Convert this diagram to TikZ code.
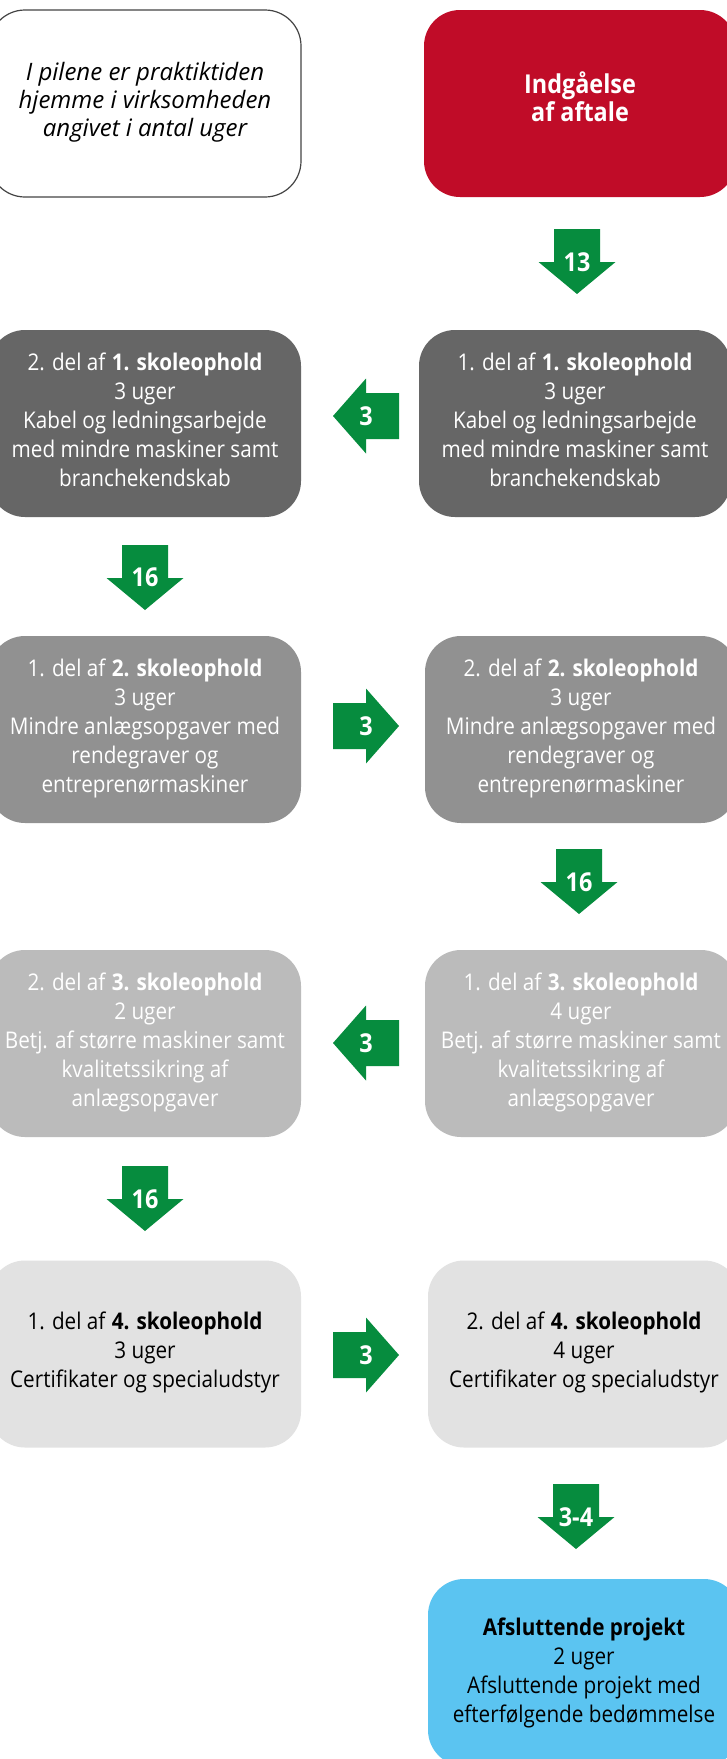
\documentclass[tikz,border=0pt]{standalone}
\usepackage{fontspec}
\setmainfont{Open Sans}[FakeStretch=0.9]
\newfontfamily\introfont{Open Sans}
\definecolor{cred}{HTML}{C00C28}
\definecolor{cdark}{HTML}{666666}
\definecolor{cmid}{HTML}{919191}
\definecolor{clight}{HTML}{BBBBBB}
\definecolor{cpale}{HTML}{E2E2E2}
\definecolor{cblue}{HTML}{5BC4F1}
\definecolor{cgreen}{HTML}{068C3E}
\definecolor{cborder}{HTML}{444444}
\newcommand{\liftup}{\\[-21pt]\mbox{}}
\tikzset{
  box/.style={rounded corners=36pt, minimum width=312pt, minimum height=187pt,
    align=center, inner sep=0pt, font=\fontsize{23}{29}\selectfont},
  alabel/.style={text=white, font=\bfseries\fontsize{26}{26}\selectfont, inner sep=0pt},
  downarrow/.pic={\fill[cgreen] (-23,0) -- (23,0) -- (23,33) -- (38.5,33) -- (0,65) -- (-38.5,33) -- (-23,33) -- cycle;},
  leftarrow/.pic={\fill[cgreen] (33,-23) -- (33,23) -- (0,23) -- (0,37.5) -- (-33,0) -- (0,-37.5) -- (0,-23) -- cycle;},
  rightarrow/.pic={\fill[cgreen] (-33,-23) -- (-33,23) -- (0,23) -- (0,37.5) -- (33,0) -- (0,-37.5) -- (0,-23) -- cycle;},
}
\begin{document}
\begin{tikzpicture}[x=1pt,y=-1pt]
\fill[white] (0,0) rectangle (726,1759);
\useasboundingbox (0,0) rectangle (726,1759);

% row 1
\node[box, draw=cborder, line width=1.2pt, fill=white, font=\introfont\itshape\fontsize{24}{28}\selectfont] (intro) at (145,103.5)
  {I pilene er praktiktiden\\hjemme i virksomheden\\angivet i antal uger\\[-20pt]\mbox{}};
\node[box, fill=cred, text=white, font=\bfseries\fontsize{26}{28}\selectfont] (start) at (580,103.5)
  {Indgåelse\\af aftale\\[-14pt]\mbox{}};

% row 2
\node[box, fill=cdark, text=white] (s1b) at (145,423.5)
  {2. del af \textbf{1. skoleophold}\\3 uger\\Kabel og ledningsarbejde\\med mindre maskiner samt\\branchekendskab\liftup};
\node[box, fill=cdark, text=white] (s1a) at (575,423.5)
  {1. del af \textbf{1. skoleophold}\\3 uger\\Kabel og ledningsarbejde\\med mindre maskiner samt\\branchekendskab\liftup};

% row 3
\node[box, fill=cmid, text=white] (s2a) at (145,729.5)
  {1. del af \textbf{2. skoleophold}\\3 uger\\Mindre anlægsopgaver med\\rendegraver og\\entreprenørmaskiner\liftup};
\node[box, fill=cmid, text=white] (s2b) at (581,729.5)
  {2. del af \textbf{2. skoleophold}\\3 uger\\Mindre anlægsopgaver med\\rendegraver og\\entreprenørmaskiner\liftup};

% row 4
\node[box, fill=clight, text=white] (s3b) at (145,1043.5)
  {2. del af \textbf{3. skoleophold}\\2 uger\\Betj. af større maskiner samt\\kvalitetssikring af\\anlægsopgaver\liftup};
\node[box, fill=clight, text=white] (s3a) at (581,1043.5)
  {1. del af \textbf{3. skoleophold}\\4 uger\\Betj. af større maskiner samt\\kvalitetssikring af\\anlægsopgaver\liftup};

% row 5
\node[box, fill=cpale, text=black] (s4a) at (145,1354)
  {1. del af \textbf{4. skoleophold}\\3 uger\\Certifikater og specialudstyr\liftup};
\node[box, fill=cpale, text=black] (s4b) at (584,1354)
  {2. del af \textbf{4. skoleophold}\\4 uger\\Certifikater og specialudstyr\liftup};

% final
\node[box, fill=cblue, text=black] (final) at (584,1672.5)
  {\textbf{Afsluttende projekt}\\2 uger\\Afsluttende projekt med\\efterfølgende bedømmelse};

% arrows
\pic at (577,229) {downarrow};
\node[alabel] (a1) at (577,262) {13};
\pic at (366,416) {leftarrow};
\node[alabel] (a2) at (366,416) {3};
\pic at (145,545) {downarrow};
\node[alabel] (a3) at (145,577) {16};
\pic at (366,726) {rightarrow};
\node[alabel] (a4) at (366,726) {3};
\pic at (579,849) {downarrow};
\node[alabel] (a5) at (579,882) {16};
\pic at (366,1043) {leftarrow};
\node[alabel] (a6) at (366,1043) {3};
\pic at (145,1166) {downarrow};
\node[alabel] (a7) at (145,1199) {16};
\pic at (366,1355) {rightarrow};
\node[alabel] (a8) at (366,1355) {3};
\pic at (576,1484) {downarrow};
\node[alabel] (a9) at (576,1517) {3-4};
\end{tikzpicture}
\end{document}
